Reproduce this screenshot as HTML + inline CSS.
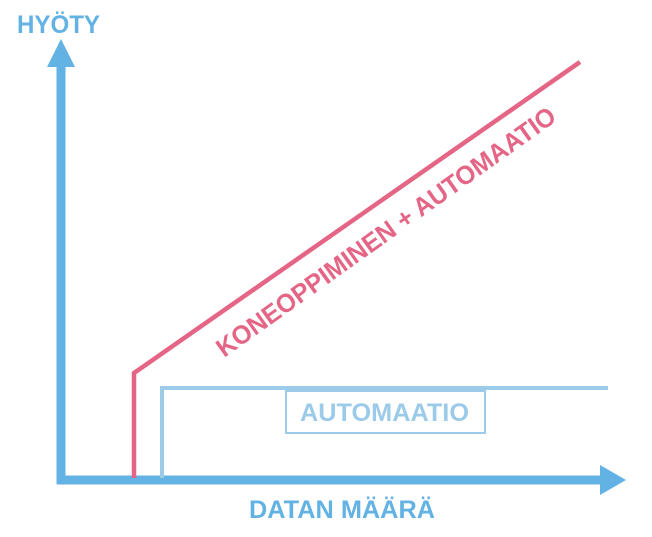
<!DOCTYPE html>
<html><head><meta charset="utf-8"><style>
html,body{margin:0;padding:0;background:#fff;width:652px;height:537px;overflow:hidden}
svg{display:block}
text{font-family:"Liberation Sans",Arial,sans-serif;font-weight:bold}
</style></head><body>
<svg width="652" height="537" viewBox="0 0 652 537" xmlns="http://www.w3.org/2000/svg">
<text x="17" y="33" font-size="25" fill="#62b2e4" textLength="83" lengthAdjust="spacingAndGlyphs">HYÖTY</text>
<line x1="61" y1="64" x2="61" y2="484" stroke="#62b2e4" stroke-width="9"/>
<polygon points="47,67 75,67 61,39" fill="#62b2e4"/>
<line x1="57" y1="480" x2="602" y2="480" stroke="#62b2e4" stroke-width="9"/>
<polygon points="600,465 600,495 626,480" fill="#62b2e4"/>
<polyline points="134,478 134,373 580,62" fill="none" stroke="#e46585" stroke-width="4.5"/>
<polyline points="162,478 162,388 608,388" fill="none" stroke="#9ccbea" stroke-width="4"/>
<rect x="286" y="391" width="199" height="42" fill="#fff" stroke="#9ccbea" stroke-width="2"/>
<text x="300" y="421" font-size="25" fill="#9ccbea" textLength="169" lengthAdjust="spacingAndGlyphs">AUTOMAATIO</text>
<text x="0" y="0" font-size="26" fill="#e46585" text-anchor="middle" textLength="410" lengthAdjust="spacingAndGlyphs" transform="translate(391,239) rotate(-35.5)">KONEOPPIMINEN + AUTOMAATIO</text>
<text x="249" y="518" font-size="25" fill="#62b2e4" textLength="186" lengthAdjust="spacingAndGlyphs">DATAN MÄÄRÄ</text>
</svg>
</body></html>
